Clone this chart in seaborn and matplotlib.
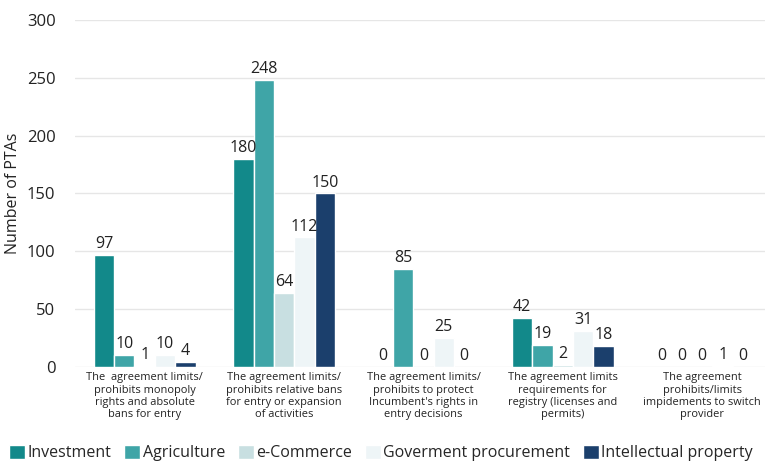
import pandas as pd
import matplotlib.pyplot as plt
import seaborn as sns

# -----------------------------
# Data
# -----------------------------
categories = [
    "The  agreement limits/\nprohibits monopoly\nrights and absolute\nbans for entry",
    "The agreement limits/\nprohibits relative bans\nfor entry or expansion\nof activities",
    "The agreement limits/\nprohibits to protect\nIncumbent's rights in\nentry decisions",
    "The agreement limits\nrequirements for\nregistry (licenses and\npermits)",
    "The agreement\nprohibits/limits\nimpidements to switch\nprovider",
]
series = ["Investment", "Agriculture", "e-Commerce", "Goverment procurement", "Intellectual property"]

investment = [97, 180, 0, 42, 0]
agriculture = [10, 248, 85, 19, 0]
ecommerce = [1, 64, 0, 2, 0]
gov_procurement = [10, 112, 25, 31, 1]
intellectual_property = [4, 150, 0, 18, 0]

colors = ["#12898a", "#3fa5a7", "#c8dfe1", "#eef5f7", "#1b3f6c"]

rows = []
for name, vals in zip(series, [investment, agriculture, ecommerce, gov_procurement, intellectual_property]):
    for cat, v in zip(categories, vals):
        rows.append({"Category": cat, "Series": name, "Value": v})
df = pd.DataFrame(rows)

# -----------------------------
# Plot
# -----------------------------
sns.set_style("white")
plt.rcParams["font.family"] = ["Open Sans", "DejaVu Sans"]

fig = plt.figure(figsize=(7.65, 4.62), dpi=100)
ax = fig.add_axes([0.098, 0.206, 0.902, 0.751])

sns.barplot(
    data=df,
    x="Category",
    y="Value",
    hue="Series",
    hue_order=series,
    order=categories,
    palette=colors,
    width=0.73,
    saturation=1,
    ax=ax,
)

for cont in ax.containers:
    ax.bar_label(cont, fontsize=11.5, color="#222222", padding=2)

ax.set_ylim(0, 300)
ax.set_xlim(-0.5, 4.45)
ax.set_yticks(range(0, 301, 50))
ax.tick_params(axis="y", labelsize=12, colors="#222222", length=0, pad=14)
ax.tick_params(axis="x", labelsize=7.9, colors="#222222", length=0, pad=4)
for lbl in ax.get_xticklabels():
    lbl.set_linespacing(1.15)
ax.set_xlabel("")
ax.set_ylabel("Number of PTAs", fontsize=11.5, color="#222222", labelpad=4)
ax.yaxis.grid(True, color="#e6e6e6", linewidth=1)
ax.set_axisbelow(True)
for s in ax.spines.values():
    s.set_visible(False)

handles, labels = ax.get_legend_handles_labels()
ax.get_legend().remove()
fig.legend(
    handles,
    labels,
    loc="lower left",
    bbox_to_anchor=(0.004, -0.012),
    ncol=5,
    frameon=False,
    fontsize=11.5,
    handlelength=1.0,
    handleheight=1.0,
    handletextpad=0.15,
    columnspacing=0.8,
    borderaxespad=0.0,
)

plt.savefig("out.png", dpi=100)
plt.close()
